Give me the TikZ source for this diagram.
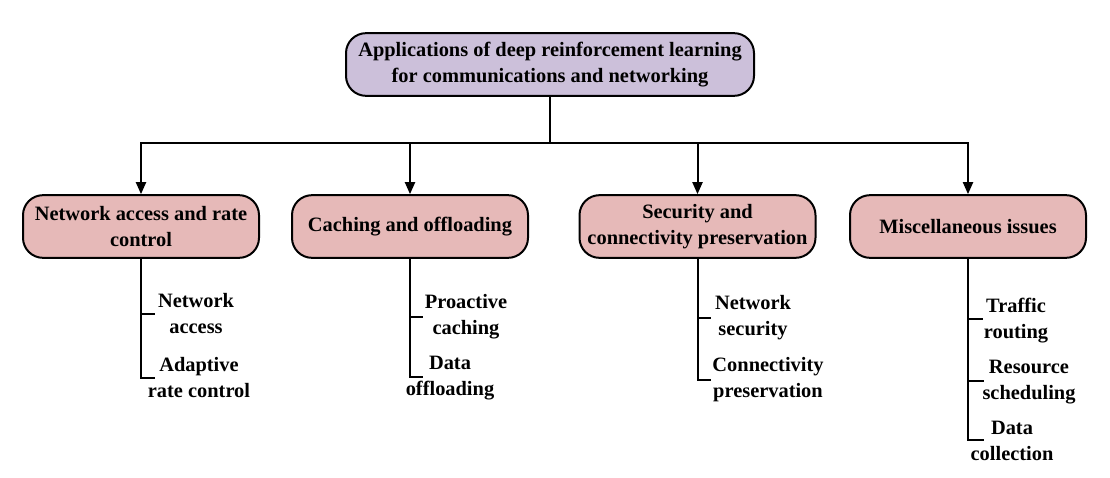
\documentclass[tikz,border=0pt]{standalone}
\usepackage{fontspec}
\setmainfont{Liberation Serif}
\usepackage{xcolor}
\usepackage{tikz}
\usetikzlibrary{arrows.meta,shapes}
\definecolor{rootfill}{RGB}{204,192,218}
\definecolor{catfill}{RGB}{230,185,184}
\tikzstyle{rootbox}=[rectangle,rounded corners=15pt,draw=black,line width=1.5pt,fill=rootfill,minimum width=306pt,minimum height=47pt,align=center,font=\fontsize{15.3}{20}\selectfont\bfseries,inner sep=1pt]
\tikzstyle{catbox}=[rectangle,rounded corners=15pt,draw=black,line width=1.5pt,fill=catfill,minimum width=177pt,minimum height=47pt,align=center,font=\fontsize{15.3}{19.5}\selectfont\bfseries,inner sep=1pt]
\tikzstyle{leaf}=[align=center,font=\fontsize{15.3}{19.5}\selectfont\bfseries,inner sep=1pt]
\tikzstyle{link}=[line width=1.5pt]
\tikzstyle{arrow}=[line width=1.5pt,-{Triangle[width=7.5pt,length=9pt]}]

\begin{document}
\begin{tikzpicture}[x=0.75pt,y=-0.75pt]
        \useasboundingbox (0,0) rectangle (1110,478);
        \node at ( 550, 64.5) [rootbox] (R) {Applications of deep reinforcement learning\\for communications and networking};
        \coordinate (bus) at (550,143);
        % categories
        \node at ( 141,226.5) [catbox] (A) {Network access and rate\\control};
        \node at ( 410,226.5) [catbox] (B) {Caching and offloading};
        \node at ( 697.5,226.5) [catbox] (C) {Security and\\connectivity preservation};
        \node at ( 968,226.5) [catbox] (D) {Miscellaneous issues};
        \draw [link] (R) to (bus);
        \draw [arrow] (bus) -| (A);
        \draw [arrow] (bus) -| (B);
        \draw [arrow] (bus) -| (C);
        \draw [arrow] (bus) -| (D);
        % leaves
        \node at ( 196,314) [leaf] (A1) {Network\\access};
        \node at ( 199,377.5) [leaf] (A2) {Adaptive\\rate control};
        \node at ( 466,316.5) [leaf] (B1) {Proactive\\caching};
        \node at ( 450,378.5) [leaf] (B2) {Data\\offloading};
        \node at ( 753,318) [leaf] (C1) {Network\\security};
        \node at ( 768,379.5) [leaf] (C2) {Connectivity\\preservation};
        \node at (1016,320.5) [leaf] (D1) {Traffic\\routing};
        \node at (1029,382.5) [leaf] (D2) {Resource\\scheduling};
        \node at (1012,440.5) [leaf] (D3) {Data\\collection};
        % tick ends
        \coordinate (a1) at (155,314);
        \coordinate (a2) at (155,378);
        \coordinate (b1) at (423,317);
        \coordinate (b2) at (423,377);
        \coordinate (c1) at (711,318);
        \coordinate (c2) at (711,380);
        \coordinate (d1) at (983,319);
        \coordinate (d2) at (984,381);
        \coordinate (d3) at (984,440);
        \draw [link] (A) |- (a2);
        \draw [link] (A.south |- a1) to (a1);
        \draw [link] (B) |- (b2);
        \draw [link] (B.south |- b1) to (b1);
        \draw [link] (C) |- (c2);
        \draw [link] (C.south |- c1) to (c1);
        \draw [link] (D) |- (d3);
        \draw [link] (D.south |- d1) to (d1);
        \draw [link] (D.south |- d2) to (d2);
      \end{tikzpicture}
\end{document}
